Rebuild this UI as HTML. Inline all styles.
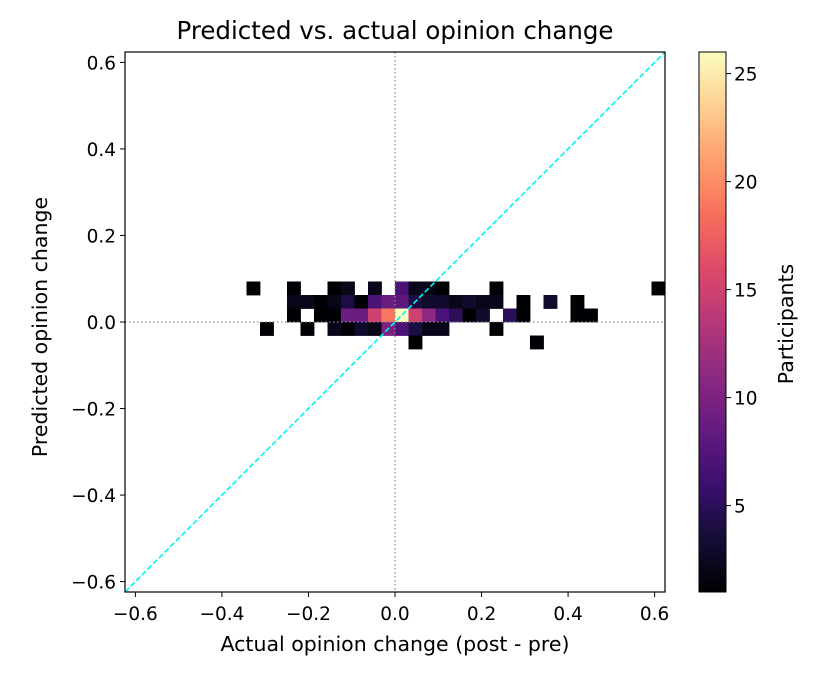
<!DOCTYPE html>
<html><head><meta charset="utf-8"><style>
body{margin:0;background:#fff;}
svg{font-family:"DejaVu Sans","Liberation Sans",sans-serif;}
</style></head><body>
<svg id="chart" width="825" height="675" viewBox="0 0 825 675" xmlns="http://www.w3.org/2000/svg">
<defs>
<linearGradient id="magma" x1="0" y1="1" x2="0" y2="0">
<stop offset="0" stop-color="#000004"/><stop offset="0.1" stop-color="#140e36"/><stop offset="0.2" stop-color="#3b0f70"/><stop offset="0.3" stop-color="#641a80"/><stop offset="0.4" stop-color="#8c2981"/><stop offset="0.5" stop-color="#b73779"/><stop offset="0.6" stop-color="#de4968"/><stop offset="0.7" stop-color="#f7705c"/><stop offset="0.8" stop-color="#fe9f6d"/><stop offset="0.9" stop-color="#fecf92"/><stop offset="1" stop-color="#fcfdbf"/>
</linearGradient>
<clipPath id="plotclip"><rect x="125" y="52" width="540" height="540"/></clipPath>
</defs>
<text x="395" y="39" font-size="24.5" text-anchor="middle">Predicted vs. actual opinion change</text>
<g id="cells" clip-path="url(#plotclip)"></g>
<g id="refs" clip-path="url(#plotclip)"></g>
<rect x="125" y="52" width="540" height="540" fill="none" stroke="#000" stroke-width="1.2"/>
<g id="axes"></g>
<text x="395" y="651" font-size="20.5" text-anchor="middle">Actual opinion change (post - pre)</text>
<text transform="translate(47,327) rotate(-90)" font-size="20.5" text-anchor="middle">Predicted opinion change</text>
<rect x="699" y="52" width="27" height="540" fill="url(#magma)" stroke="#000" stroke-width="1"/>
<g id="cbaxis"></g>
<text transform="translate(793,324) rotate(-90)" font-size="20.5" text-anchor="middle">Participants</text>
</svg>
<script>
const binWidth = 0.0312;
// cells: [x bin index, y bin index, count]; bin k covers [k*binWidth,(k+1)*binWidth]
const cellXBins = [-11,-8,-5,-4,-2,0,1,2,3,7,19,
 -8,-7,-6,-5,-4,-3,-2,-1,0,1,2,3,4,5,6,7,9,11,13,
 -8,-6,-5,-4,-3,-2,-1,0,1,2,3,4,5,6,8,9,13,14,
 -10,-7,-5,-4,-3,-2,-1,0,1,2,3,7,
 1,10];
const cellYBins = [2,2,2,2,2,2,2,2,2,2,2,
 1,1,1,1,1,1,1,1,1,1,1,1,1,1,1,1,1,1,1,
 0,0,0,0,0,0,0,0,0,0,0,0,0,0,0,0,0,0,
 -1,-1,-1,-1,-1,-1,-1,-1,-1,-1,-1,-1,
 -2,-2];
const cellCounts = [1,1,1,2,2,7,2,2,1,1,1,
 2,2,1,2,4,1,7,9,8,4,3,3,2,3,2,2,1,3,1,
 1,1,1,9,9,15,19,26,15,11,7,5,1,3,5,1,1,1,
 1,1,2,1,3,2,10,7,4,2,2,1,
 1,1];
const xTicks = [-0.6,-0.4,-0.2,0.0,0.2,0.4,0.6];
const yTicks = [-0.6,-0.4,-0.2,0.0,0.2,0.4,0.6];
const cbTicks = [5,10,15,20,25];
const domain = [-0.624,0.624];
const cRange = [1,26];

const NS="http://www.w3.org/2000/svg";
const xs = v => 125 + (v-domain[0])/(domain[1]-domain[0])*540;
const ys = v => 592 - (v-domain[0])/(domain[1]-domain[0])*540;
const cs = v => 592 - (v-cRange[0])/(cRange[1]-cRange[0])*540;
const stops=[[0,0,4],[20,14,54],[59,15,112],[100,26,128],[140,41,129],[183,55,121],[222,73,104],[247,112,92],[254,159,109],[254,207,146],[252,253,191]];
function magma(t){t=Math.max(0,Math.min(1,t));const p=t*10,i=Math.min(9,Math.floor(p)),f=p-i;const a=stops[i],b=stops[i+1];
return `rgb(${a.map((c,j)=>Math.round(c+(b[j]-c)*f)).join(',')})`;}
function mk(tag,attrs,parent){const e=document.createElementNS(NS,tag);for(const k in attrs)e.setAttribute(k,attrs[k]);parent.appendChild(e);return e;}

const cg=document.getElementById('cells');
cellCounts.forEach((c,i)=>{
 const x0=xs(cellXBins[i]*binWidth), x1=xs((cellXBins[i]+1)*binWidth);
 const y0=ys((cellYBins[i]+1)*binWidth), y1=ys(cellYBins[i]*binWidth);
 const r=mk('rect',{x:x0,y:y0,width:x1-x0+0.4,height:y1-y0+0.4,fill:magma((c-cRange[0])/(cRange[1]-cRange[0]))},cg);
 
 
});
const rg=document.getElementById('refs');
let l=mk('line',{x1:125,x2:665,y1:ys(0),y2:ys(0),stroke:'#888','stroke-width':1.2,'stroke-dasharray':'1.5,2.5'},rg);


l=mk('line',{x1:xs(0),x2:xs(0),y1:52,y2:592,stroke:'#888','stroke-width':1.2,'stroke-dasharray':'1.5,2.5'},rg);


l=mk('line',{x1:xs(domain[0]),y1:ys(domain[0]),x2:xs(domain[1]),y2:ys(domain[1]),stroke:'#00f5f5','stroke-width':1.6,'stroke-dasharray':'5.5,2.5'},rg);



const ag=document.getElementById('axes');
const fmt=v=>(v<0?'\u2212':'')+Math.abs(v).toFixed(1);
xTicks.forEach(v=>{
 const x=xs(v);
 mk('line',{x1:x,x2:x,y1:592,y2:597,stroke:'#000'},ag);
 const t=mk('text',{x:x,y:620,'font-size':18.5,'text-anchor':'middle'},ag);t.textContent=fmt(v);
 
 
});
yTicks.forEach(v=>{
 const y=ys(v);
 mk('line',{x1:120,x2:125,y1:y,y2:y,stroke:'#000'},ag);
 const t=mk('text',{x:116,y:y+7,'font-size':18.5,'text-anchor':'end'},ag);t.textContent=fmt(v);
 
 
});
const cb=document.getElementById('cbaxis');
cbTicks.forEach(v=>{
 const y=cs(v);
 mk('line',{x1:726,x2:731,y1:y,y2:y,stroke:'#000'},cb);
 const t=mk('text',{x:734,y:y+7,'font-size':18.5},cb);t.textContent=v;
 
 
});
</script>
</body></html>
